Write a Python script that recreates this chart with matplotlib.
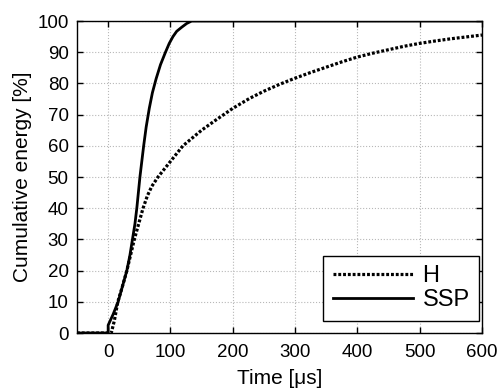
import matplotlib
matplotlib.use("Agg")
import matplotlib.pyplot as plt

plt.rcParams["font.family"] = ["Liberation Sans", "DejaVu Sans"]

# H curve (dotted)
t_h = [-50, 0, 5, 10, 15.5, 23, 30, 36, 42, 49, 56, 63, 70, 80, 90, 100, 110,
       120, 135, 150, 171, 200, 227, 250, 275, 299, 325, 350, 375, 399, 425,
       450, 475, 499, 525, 550, 575, 600]
e_h = [0, 0, 0, 4, 10, 15, 20, 25, 30, 35, 40, 44, 47, 50, 52.5, 55, 57.5,
       60, 62.5, 65, 68, 72, 75.2, 77.5, 79.7, 81.6, 83.5, 85.2, 86.9, 88.4,
       89.7, 90.8, 91.9, 92.8, 93.6, 94.3, 94.9, 95.5]

# SSP curve (solid)
t_ssp = [-50, 0, 0, 8, 16, 23, 30, 35, 39, 43, 46, 51, 54, 57, 61, 66, 71, 77,
         84, 92, 98, 104, 110, 118, 126, 134, 145, 600]
e_ssp = [0, 0, 2.5, 6, 10, 15, 20, 25, 30, 35, 40, 50, 55, 60, 66, 72, 77, 81.5,
         86, 90, 92.8, 95, 96.7, 98, 99.2, 100, 100, 100]

xticks = [0, 100, 200, 300, 400, 500, 600]
yticks = list(range(0, 101, 10))

fig = plt.figure(figsize=(5.01, 3.92), dpi=100)
ax = fig.add_axes([77 / 501, 1 - 333 / 392, 405 / 501, 312 / 392])

ax.plot(t_h, e_h, color="black", lw=2.3, linestyle=(0, (0.9, 0.6)), label="H")
ax.plot(t_ssp, e_ssp, color="black", lw=2.0, label="SSP")

ax.set_xlim(-50, 600)
ax.set_ylim(0, 100)
ax.set_xticks(xticks)
ax.set_yticks(yticks)
ax.grid(True, color="#b8b8b8", linestyle=":", linewidth=0.8)
ax.tick_params(direction="in", top=True, right=True, labelsize=13.5,
               length=4, width=1)
ax.tick_params(axis="x", pad=8)
ax.tick_params(axis="y", pad=6)
for s in ax.spines.values():
    s.set_linewidth(1.0)

ax.set_xlabel("Time [\u03bcs]", fontsize=15, labelpad=6)
ax.set_ylabel("Cumulative energy [%]", fontsize=15, labelpad=4)

leg = ax.legend(loc="lower right", fontsize=17, handlelength=3.4,
                fancybox=False, framealpha=1, edgecolor="black",
                borderpad=0.4, labelspacing=0.1, handletextpad=0.4,
                borderaxespad=0, bbox_to_anchor=(0.993, 0.039))
leg.get_frame().set_linewidth(1.0)

fig.savefig("out.png", dpi=100)
